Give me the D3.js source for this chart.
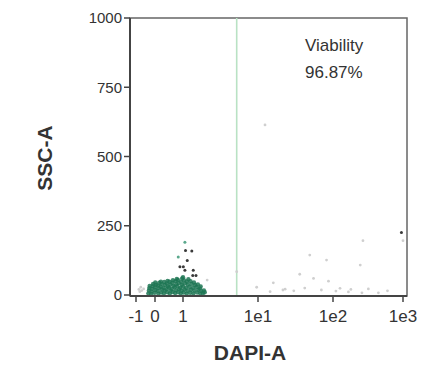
<!DOCTYPE html>
<html>
<head>
<meta charset="utf-8">
<script src="https://cdn.jsdelivr.net/npm/d3@7"></script>
<style>
  body { margin: 0; background: #fff; }
  text { font-family: "Liberation Sans", Arial, sans-serif; }
</style>
</head>
<body>
<div id="chart"></div>
<script>
// tick values / labels
const xTicks = [-1, 0, 1, 10, 100, 1000];
const xTickLabels = ["-1", "0", "1", "1e1", "1e2", "1e3"];
const yTicks = [0, 250, 500, 750, 1000];

// gate (DAPI threshold) and annotation
const gateX = 5.2;
const annotation = ["Viability", "96.87%"];

// live population (DAPI-A, SSC-A)
const cluster = [
  [-0.35,6],[-0.32,16],[-0.3,25],[-0.28,33],
  [-0.2,4],[-0.18,13],[-0.15,22],[-0.12,32],[-0.1,40],
  [-0.02,8],[0.02,18],[0.0,28],[0.04,37],[0.01,45],
  [0.12,5],[0.1,15],[0.14,25],[0.11,34],[0.15,44],
  [0.22,9],[0.25,20],[0.2,30],[0.24,40],[0.21,48],
  [0.32,6],[0.35,16],[0.3,26],[0.36,36],[0.33,47],
  [0.44,10],[0.41,21],[0.46,31],[0.42,42],[0.45,51],
  [0.53,5],[0.56,16],[0.5,27],[0.55,38],[0.52,48],
  [0.63,11],[0.6,22],[0.66,33],[0.62,44],[0.64,53],
  [0.72,7],[0.75,17],[0.7,28],[0.76,39],[0.73,50],[0.78,58],
  [0.83,10],[0.86,21],[0.8,32],[0.85,43],[0.82,54],
  [0.92,6],[0.95,16],[0.9,26],[0.96,37],[0.93,48],[0.97,60],
  [1.02,9],[1.05,20],[1.0,31],[1.06,42],[1.03,53],[1.0,64],
  [1.12,5],[1.15,15],[1.1,26],[1.16,38],[1.13,49],[1.18,57],
  [1.25,8],[1.28,19],[1.22,29],[1.3,40],[1.26,50],
  [1.38,6],[1.42,16],[1.36,26],[1.45,36],[1.4,45],
  [1.55,9],[1.6,19],[1.52,29],[1.58,38],
  [1.7,6],[1.75,14],[1.68,24],[1.72,31],
  [1.85,7],[1.9,16],[1.95,10]
];

// darker events above the main cluster
const darkEvents = [
  [1.08,161],[1.31,159],[1.14,125],[0.89,102],[1.01,102],
  [1.06,89],[1.37,89],[1.35,70],[1.49,70],[950,226]
];
const tealEvents = [[1.06,190],[0.83,137]];

// faint grey events
const greyEvents = [
  [-0.85,20],[-0.75,28],[-0.7,16],[-0.6,22],[-0.8,12],
  [9.6,28],[21.5,18],[14.5,12],[23,21],[42,25],[55,60],[87,50],
  [126,24],[166,11],[259,8],[445,8],[268,196],[49,144],[82,126],
  [245,108],[2.1,54],[5.2,84],[36,75],[16,44],[1000,196],[12.4,614],
  [30,15],[70,18],[180,20],[600,15],[320,22],[110,14]
];

const width = 432, height = 375;
const svg = d3.select("#chart").append("svg")
  .attr("width", width).attr("height", height);

// logicle-ish display: linear below 1, log above
const tf = v => v <= 1 ? v : 1 + Math.log10(v);
const xs = d3.scaleLinear()
  .domain([-1.3, -1, 0, 1, 2, 3, 4, 4.05])
  .range([130, 136, 155, 183, 258, 333, 403, 407]);
const x = v => xs(tf(v));
const y = d3.scaleLinear().domain([0, 1000]).range([295, 18]);

// frame
svg.append("rect")
  .attr("x", 130).attr("y", 18).attr("width", 277).attr("height", 278)
  .attr("fill", "none").attr("stroke", "#666").attr("stroke-width", 1.5);

// gate line
svg.append("line")
  .attr("x1", x(gateX)).attr("x2", x(gateX))
  .attr("y1", y(1000)).attr("y2", y(0) + 1)
  .attr("stroke", "#b9e2c4").attr("stroke-width", 1.6);

// events
svg.append("g").selectAll("circle").data(greyEvents).enter().append("circle")
  .attr("cx", d => x(d[0])).attr("cy", d => y(d[1])).attr("r", 1.4)
  .attr("fill", "#cfcfcf");

svg.append("g").selectAll("circle").data(cluster).enter().append("circle")
  .attr("cx", d => x(d[0])).attr("cy", d => y(d[1])).attr("r", 2.2)
  .attr("fill", "#1d7654").attr("opacity", 0.85);

svg.append("g").selectAll("circle").data(darkEvents).enter().append("circle")
  .attr("cx", d => x(d[0])).attr("cy", d => y(d[1])).attr("r", 1.5)
  .attr("fill", "#3a3a3a");

svg.append("g").selectAll("circle").data(tealEvents).enter().append("circle")
  .attr("cx", d => x(d[0])).attr("cy", d => y(d[1])).attr("r", 1.5)
  .attr("fill", "#5aa88c");

// axes
const xAxis = svg.append("g").attr("transform", "translate(0,296)");
xAxis.append("line").attr("x1", 130).attr("x2", 407)
  .attr("stroke", "#444").attr("stroke-width", 2);
const xt = xAxis.selectAll(".tick").data(xTicks).enter().append("g")
  .attr("transform", d => `translate(${x(d)},0)`);
xt.append("line").attr("y2", 6).attr("stroke", "#444").attr("stroke-width", 1.5);
xt.append("text").attr("y", 26).attr("text-anchor", "middle")
  .attr("font-size", 17).attr("fill", "#333")
  .text((d, i) => xTickLabels[i]);

const yAxis = svg.append("g").attr("transform", "translate(130,0)");
yAxis.append("line").attr("y1", 18).attr("y2", 296)
  .attr("stroke", "#444").attr("stroke-width", 2);
const yt = yAxis.selectAll(".tick").data(yTicks).enter().append("g")
  .attr("transform", d => `translate(0,${y(d)})`);
yt.append("line").attr("x2", -6).attr("stroke", "#444").attr("stroke-width", 1.5);
yt.append("text").attr("x", -8).attr("dy", "0.35em").attr("text-anchor", "end")
  .attr("font-size", 15).attr("fill", "#333")
  .text(d => d);

// annotation
svg.append("g").selectAll("text").data(annotation).enter().append("text")
  .attr("x", 305).attr("y", (d, i) => 51 + i * 27)
  .attr("font-size", 17).attr("fill", "#333")
  .text(d => d);

// axis titles
svg.append("text")
  .attr("x", 250).attr("y", 360).attr("text-anchor", "middle")
  .attr("font-size", 21).attr("font-weight", "bold").attr("fill", "#333")
  .text("DAPI-A");
svg.append("text")
  .attr("transform", "translate(52,158) rotate(-90)").attr("text-anchor", "middle")
  .attr("font-size", 21).attr("font-weight", "bold").attr("fill", "#333")
  .text("SSC-A");
</script>
</body>
</html>
